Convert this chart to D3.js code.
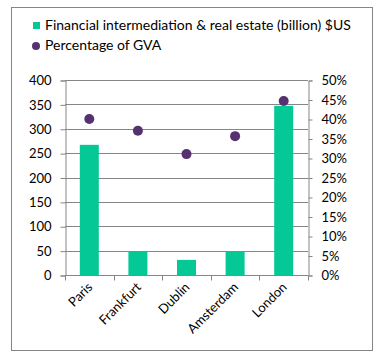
<!DOCTYPE html>
<html><head><meta charset="utf-8">
<script src="https://cdn.jsdelivr.net/npm/d3@7"></script>
<style>body{margin:0;background:#fff}svg{display:block}text{font-family:Lato,"Open Sans",sans-serif;fill:#000}</style>
</head><body><svg id="c" width="386" height="361"></svg>
<script>
const categories = ["Paris","Frankfurt","Dublin","Amsterdam","London"];
const financeValues = [267, 49, 31, 48, 347];
const gvaPercent = [0.40, 0.37, 0.31, 0.356, 0.446];
const leftTicks = [0,50,100,150,200,250,300,350,400];
const rightTicks = [0,0.05,0.1,0.15,0.2,0.25,0.3,0.35,0.4,0.45,0.5];
const seriesNames = ["Financial intermediation & real estate (billion) $US","Percentage of GVA"];

const svg = d3.select("#c");
const grey = "#868686", teal = "#05C897", purple = "#55316F";
const L = 65, R = 308, T = 80, B = 275;

svg.append("rect").attr("x",11.5).attr("y",7.5).attr("width",361).attr("height",343)
  .attr("fill","#fff").attr("stroke",grey).attr("stroke-width",1);

const x = d3.scaleBand().domain(categories).range([L,R]);
const yL = d3.scaleLinear().domain([0,400]).range([B,T]);
const yR = d3.scaleLinear().domain([0,0.5]).range([B,T]);

// gridlines
svg.append("g").selectAll("line").data(leftTicks.slice(1)).join("line")
  .attr("x1",L).attr("x2",R).attr("y1",d=>Math.round(yL(d))+0.5).attr("y2",d=>Math.round(yL(d))+0.5)
  .attr("stroke",grey);

// left axis
const gl = svg.append("g").attr("transform",`translate(${L+0.5},0.5)`)
  .call(d3.axisLeft(yL).tickValues(leftTicks).tickSize(5).tickPadding(9));
// right axis
const gr = svg.append("g").attr("transform",`translate(${R+0.5},0.5)`)
  .call(d3.axisRight(yR).tickValues(rightTicks).tickSize(4).tickPadding(9).tickFormat(d3.format(".0%")));
// bottom axis
const gb = svg.append("g").attr("transform",`translate(0,${B+0.5})`)
  .call(d3.axisBottom(x).tickSize(0).tickFormat(""));
gb.selectAll(".bt").data(d3.range(categories.length+1)).join("line").attr("class","bt")
  .attr("x1",i=>Math.round(L+i*x.step())+0.5).attr("x2",i=>Math.round(L+i*x.step())+0.5)
  .attr("y1",0).attr("y2",5).attr("stroke",grey);
[gl,gr,gb].forEach(g=>{
  g.select(".domain").attr("stroke",grey);
  g.selectAll(".tick line").attr("stroke",grey);
  g.selectAll("text").style("font-size","13px").style("font-family","Lato,'Open Sans',sans-serif").attr("fill","#000");
});
gb.select(".domain").attr("d",`M${L},0H${R}`);

// x labels
svg.append("g").selectAll("text").data(categories).join("text")
  .attr("transform",d=>`translate(${x(d)+x.bandwidth()/2+4},${B+13}) rotate(-45)`)
  .attr("text-anchor","end").attr("font-size","13px").text(d=>d);

// bars
const bw = 19;
svg.append("g").selectAll("rect").data(categories).join("rect")
  .attr("x",(d)=>x(d)+x.bandwidth()/2-bw/2).attr("width",bw)
  .attr("y",(d,i)=>yL(financeValues[i])).attr("height",(d,i)=>B-yL(financeValues[i]))
  .attr("fill",teal);

// points
svg.append("g").selectAll("circle").data(categories).join("circle")
  .attr("cx",d=>x(d)+x.bandwidth()/2).attr("cy",(d,i)=>yR(gvaPercent[i])).attr("r",5)
  .attr("fill",purple);

// legend
const lg = svg.append("g");
lg.append("rect").attr("x",33).attr("y",22).attr("width",7).attr("height",7).attr("fill",teal);
lg.append("text").attr("x",45).attr("y",30).attr("font-size","14px").text(seriesNames[0]);
lg.append("circle").attr("cx",36).attr("cy",46).attr("r",4).attr("fill",purple);
lg.append("text").attr("x",45).attr("y",50).attr("font-size","14px").text(seriesNames[1]);
</script></body></html>
